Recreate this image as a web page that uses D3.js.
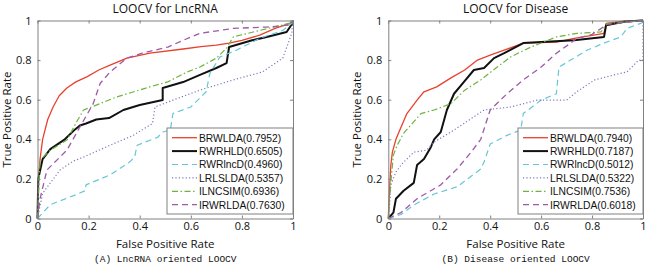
<!DOCTYPE html>
<html>
<head>
<meta charset="utf-8">
<script src="https://cdn.jsdelivr.net/npm/d3@7"></script>
<style>
  body { margin: 0; background: #fff; }
  svg text { font-family: "Open Sans", "Noto Sans", sans-serif; }
</style>
</head>
<body>
<div id="chart"></div>
<script>
// ROC curves: [FPR, TPR]
const methods = ["BRWLDA", "RWRHLD", "RWRlncD", "LRLSLDA", "ILNCSIM", "IRWRLDA"];
const lnc_auc = ["0.7952", "0.6505", "0.4960", "0.5357", "0.6936", "0.7630"];
const dis_auc = ["0.7940", "0.7187", "0.5012", "0.5322", "0.7536", "0.6018"];
const ticks = [0, 0.2, 0.4, 0.6, 0.8, 1];

const lnc_brwlda = [[0,0],[0.004,0.2],[0.01,0.3],[0.02,0.4],[0.04,0.5],[0.061,0.563],[0.085,0.62],[0.115,0.659],[0.15,0.69],[0.193,0.715],[0.24,0.75],[0.284,0.775],[0.35,0.81],[0.44,0.835],[0.57,0.856],[0.64,0.868],[0.70,0.876],[0.75,0.886],[0.8,0.9],[0.87,0.926],[0.93,0.96],[0.99,0.987],[1,1]];
const lnc_rwrhld = [[0,0],[0.003,0.2],[0.02,0.3],[0.05,0.35],[0.107,0.4],[0.147,0.45],[0.166,0.47],[0.19,0.48],[0.23,0.5],[0.28,0.507],[0.336,0.548],[0.40,0.573],[0.49,0.598],[0.49,0.659],[0.57,0.689],[0.636,0.725],[0.70,0.76],[0.74,0.785],[0.75,0.866],[0.84,0.90],[0.897,0.917],[0.975,0.942],[1,0.99],[1,1]];
const lnc_rwrlncd = [[0,0],[0.05,0.07],[0.15,0.12],[0.186,0.14],[0.19,0.17],[0.284,0.22],[0.36,0.285],[0.38,0.31],[0.39,0.37],[0.47,0.41],[0.49,0.437],[0.52,0.447],[0.53,0.53],[0.6,0.563],[0.66,0.64],[0.675,0.734],[0.714,0.816],[0.78,0.851],[0.87,0.91],[0.96,0.95],[1,0.99],[1,1]];
const lnc_lrlslda = [[0,0],[0.02,0.127],[0.088,0.245],[0.14,0.29],[0.18,0.31],[0.284,0.37],[0.375,0.42],[0.45,0.48],[0.46,0.563],[0.53,0.598],[0.64,0.65],[0.766,0.7],[0.88,0.74],[0.96,0.81],[0.995,0.935],[1,1]];
const lnc_ilncsim = [[0,0],[0.01,0.295],[0.05,0.345],[0.115,0.396],[0.154,0.49],[0.18,0.548],[0.205,0.56],[0.31,0.614],[0.44,0.665],[0.51,0.69],[0.585,0.74],[0.636,0.765],[0.70,0.81],[0.74,0.86],[0.766,0.917],[0.87,0.95],[0.99,0.987],[1,1]];
const lnc_irwrlda = [[0,0],[0.01,0.1],[0.037,0.245],[0.115,0.345],[0.166,0.462],[0.218,0.58],[0.245,0.682],[0.284,0.74],[0.35,0.81],[0.41,0.835],[0.51,0.866],[0.57,0.90],[0.636,0.935],[0.766,0.96],[0.897,0.967],[0.99,0.977],[1,1]];

const dis_brwlda = [[0,0],[0.003,0.1],[0.01,0.27],[0.016,0.335],[0.03,0.4],[0.042,0.437],[0.073,0.53],[0.113,0.598],[0.14,0.64],[0.19,0.665],[0.246,0.71],[0.30,0.75],[0.35,0.8],[0.40,0.825],[0.455,0.85],[0.53,0.886],[0.66,0.891],[0.73,0.91],[0.847,0.935],[0.855,0.985],[0.925,0.997],[1,1]];
const dis_rwrhld = [[0,0],[0.02,0.03],[0.03,0.1],[0.06,0.14],[0.1,0.18],[0.113,0.27],[0.14,0.3],[0.167,0.36],[0.18,0.4],[0.206,0.437],[0.23,0.548],[0.258,0.63],[0.297,0.69],[0.336,0.75],[0.376,0.76],[0.415,0.81],[0.455,0.835],[0.53,0.886],[0.6,0.891],[0.73,0.9],[0.847,0.917],[0.855,0.976],[0.93,0.995],[1,1]];
const dis_rwrlncd = [[0,0],[0.05,0.02],[0.1,0.068],[0.18,0.124],[0.27,0.16],[0.363,0.25],[0.376,0.285],[0.40,0.376],[0.466,0.42],[0.52,0.447],[0.53,0.53],[0.6,0.598],[0.66,0.63],[0.67,0.765],[0.716,0.8],[0.78,0.85],[0.847,0.886],[0.913,0.917],[0.937,0.96],[1,0.99],[1,1]];
const dis_lrlslda = [[0,0],[0.003,0.03],[0.01,0.17],[0.03,0.235],[0.053,0.275],[0.1,0.335],[0.15,0.345],[0.18,0.386],[0.246,0.437],[0.297,0.48],[0.376,0.548],[0.48,0.563],[0.585,0.598],[0.7,0.598],[0.74,0.64],[0.81,0.70],[0.886,0.725],[0.937,0.74],[0.983,0.8],[1,0.8],[1,1]];
const dis_ilncsim = [[0,0],[0.01,0.185],[0.02,0.32],[0.035,0.37],[0.06,0.43],[0.128,0.53],[0.18,0.548],[0.246,0.58],[0.3,0.648],[0.363,0.70],[0.428,0.765],[0.48,0.816],[0.56,0.866],[0.66,0.917],[0.74,0.935],[0.835,0.942],[0.86,0.985],[1,1]];
const dis_irwrlda = [[0,0],[0.05,0.03],[0.113,0.1],[0.206,0.17],[0.27,0.25],[0.325,0.335],[0.363,0.4],[0.40,0.548],[0.466,0.63],[0.53,0.70],[0.6,0.765],[0.66,0.835],[0.716,0.886],[0.74,0.91],[0.8,0.93],[0.86,0.98],[1,1]];

const styles = [
    { color: "#e8412f", width: 1.3, dash: null },
    { color: "#111111", width: 2, dash: null },
    { color: "#66c6d8", width: 1.2, dash: "6,4" },
    { color: "#7b7bbb", width: 1.2, dash: "1.2,2.2" },
    { color: "#6db33f", width: 1.2, dash: "6,2.5,1.5,2.5" },
    { color: "#9c5aa8", width: 1.3, dash: "6,4" }
];

const svg = d3.select("#chart").append("svg")
    .attr("width", 648)
    .attr("height", 264);

function drawPanel(opts) {
    const x = d3.scaleLinear().domain([0, 1]).range([opts.left, opts.right]);
    const y = d3.scaleLinear().domain([0, 1]).range([218.5, 20.5]);
    const g = svg.append("g");

    g.append("rect")
        .attr("x", x(0)).attr("y", y(1))
        .attr("width", x(1) - x(0)).attr("height", y(0) - y(1))
        .attr("fill", "#fff");

    // curves
    const line = d3.line().x(d => x(d[0])).y(d => y(d[1]));
    opts.series.forEach(function (s, i) {
        g.append("path")
            .datum(s)
            .attr("d", line)
            .attr("fill", "none")
            .attr("stroke", styles[i].color)
            .attr("stroke-width", styles[i].width)
            .attr("stroke-dasharray", styles[i].dash)
            .attr("stroke-linejoin", "round");
    });

    // axes with inward ticks on all four sides
    const axCol = "#808080";
    const mk = function (axis, tx, ty, labels) {
        const a = g.append("g").attr("transform", "translate(" + tx + "," + ty + ")").call(axis);
        a.select(".domain").attr("stroke", axCol);
        a.selectAll(".tick line").attr("stroke", axCol);
        a.selectAll("text").attr("font-size", 11).attr("fill", "#111");
        if (!labels) a.selectAll("text").remove();
        return a;
    };
    const fmt = d => String(d);
    mk(d3.axisBottom(x).tickValues(ticks).tickSize(-3).tickSizeOuter(0).tickPadding(4).tickFormat(fmt), 0, y(0), true);
    mk(d3.axisTop(x).tickValues(ticks).tickSize(-3).tickSizeOuter(0), 0, y(1), false);
    mk(d3.axisLeft(y).tickValues(ticks).tickSize(-3).tickSizeOuter(0).tickPadding(6).tickFormat(fmt), x(0), 0, true);
    mk(d3.axisRight(y).tickValues(ticks).tickSize(-3).tickSizeOuter(0), x(1), 0, false);

    // legend
    const lg = g.append("g");
    lg.append("rect")
        .attr("x", opts.legendX).attr("y", 128)
        .attr("width", x(1) - opts.legendX).attr("height", 86)
        .attr("fill", "#fff").attr("stroke", axCol);
    methods.forEach(function (m, i) {
        const ly = 137.7 + i * 13.4;
        lg.append("line")
            .attr("x1", opts.legendX + 5).attr("x2", opts.legendX + 30)
            .attr("y1", ly).attr("y2", ly)
            .attr("stroke", styles[i].color)
            .attr("stroke-width", styles[i].width)
            .attr("stroke-dasharray", styles[i].dash);
        lg.append("text")
            .attr("x", opts.legendX + 32).attr("y", ly + 3.8)
            .style("font-family", "'Liberation Sans', Arial, sans-serif")
            .attr("font-size", 10.3).attr("fill", "#111")
            .text(m + "(" + opts.auc[i] + ")");
    });

    const cx = (x(0) + x(1)) / 2;
    g.append("text").attr("x", cx).attr("y", 13).attr("text-anchor", "middle")
        .attr("font-size", 12).attr("fill", "#111").text(opts.title);
    g.append("text").attr("x", cx).attr("y", 247.5).attr("text-anchor", "middle")
        .attr("font-size", 11.5).attr("fill", "#111").text("False Positive Rate");
    g.append("text")
        .attr("transform", "translate(" + (x(0) - 27) + "," + y(0.5) + ") rotate(-90)")
        .attr("text-anchor", "middle")
        .attr("font-size", 11.5).attr("fill", "#111").text("True Positive Rate");
    g.append("text").attr("x", cx).attr("y", 262).attr("text-anchor", "middle")
        .style("font-family", "'Liberation Mono', monospace")
        .attr("font-size", 9.5).attr("fill", "#111").text(opts.caption);
}

drawPanel({
    left: 37.5, right: 293, legendX: 167,
    title: "LOOCV for LncRNA", caption: "(A) LncRNA oriented LOOCV",
    auc: lnc_auc,
    series: [lnc_brwlda, lnc_rwrhld, lnc_rwrlncd, lnc_lrlslda, lnc_ilncsim, lnc_irwrlda]
});
drawPanel({
    left: 388.3, right: 643, legendX: 518,
    title: "LOOCV for Disease", caption: "(B) Disease oriented LOOCV",
    auc: dis_auc,
    series: [dis_brwlda, dis_rwrhld, dis_rwrlncd, dis_lrlslda, dis_ilncsim, dis_irwrlda]
});
</script>
</body>
</html>
